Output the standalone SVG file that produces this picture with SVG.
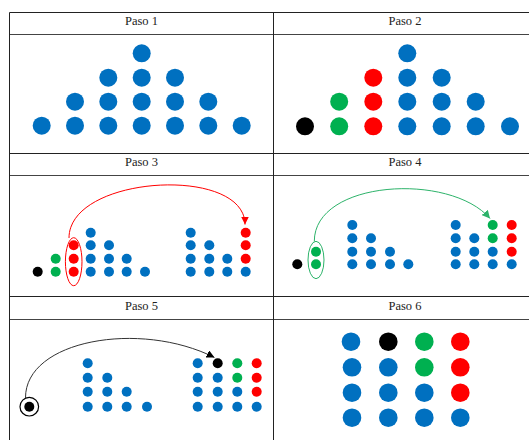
<svg xmlns="http://www.w3.org/2000/svg" width="529" height="440" viewBox="0 0 529 440">
<style>
.grid{stroke:#222;stroke-width:1;fill:none}
.hdr{stroke:#444;stroke-width:1.2;fill:none}
.t{font-family:"Liberation Serif","DejaVu Serif",serif;font-size:12.5px;fill:#222;text-anchor:middle}
.b{fill:#0070C0}.r{fill:#FF0000}.g{fill:#00B050}.k{fill:#000}
</style>
<defs>
<marker id="ar" viewBox="0 0 10 10" refX="10" refY="5" markerWidth="8" markerHeight="8" markerUnits="userSpaceOnUse" orient="auto"><path d="M0,0 L10,5 L0,10 z" fill="#FF0000"/></marker>
<marker id="ag" viewBox="0 0 10 10" refX="10" refY="5" markerWidth="8" markerHeight="8" markerUnits="userSpaceOnUse" orient="auto"><path d="M0,0 L10,5 L0,10 z" fill="#2DB36A"/></marker>
<marker id="ak" viewBox="0 0 10 10" refX="10" refY="5" markerWidth="8" markerHeight="8" markerUnits="userSpaceOnUse" orient="auto"><path d="M0,0 L10,5 L0,10 z" fill="#000"/></marker>
</defs>
<rect width="529" height="440" fill="#fff"/>
<g id="table">
<line class="grid" x1="9.5" y1="12.5" x2="529" y2="12.5"/>
<line class="hdr" x1="9.5" y1="34.5" x2="529" y2="34.5"/>
<line class="grid" x1="9.5" y1="153.5" x2="529" y2="153.5"/>
<line class="hdr" x1="9.5" y1="175.5" x2="529" y2="175.5"/>
<line class="grid" x1="9.5" y1="296.5" x2="529" y2="296.5"/>
<line class="hdr" x1="9.5" y1="319.5" x2="529" y2="319.5"/>
<line class="grid" x1="9.5" y1="12.5" x2="9.5" y2="440"/>
<line class="grid" x1="273.5" y1="12.5" x2="273.5" y2="440"/>
<text class="t" x="141.5" y="24.5">Paso 1</text>
<text class="t" x="405" y="24.5">Paso 2</text>
<text class="t" x="141.5" y="166">Paso 3</text>
<text class="t" x="405" y="166">Paso 4</text>
<text class="t" x="141.5" y="309.5">Paso 5</text>
<text class="t" x="405" y="309.5">Paso 6</text>
</g>
<g id="paso1">
<circle class="b" cx="141.7" cy="53.3" r="9"/>
<circle class="b" cx="108.3" cy="77.7" r="9"/><circle class="b" cx="141.7" cy="77.7" r="9"/><circle class="b" cx="175" cy="77.7" r="9"/>
<circle class="b" cx="75" cy="101.7" r="9"/><circle class="b" cx="108.3" cy="101.7" r="9"/><circle class="b" cx="141.7" cy="101.7" r="9"/><circle class="b" cx="175" cy="101.7" r="9"/><circle class="b" cx="208.3" cy="101.7" r="9"/>
<circle class="b" cx="41.7" cy="125.7" r="9"/><circle class="b" cx="75" cy="125.7" r="9"/><circle class="b" cx="108.3" cy="125.7" r="9"/><circle class="b" cx="141.7" cy="125.7" r="9"/><circle class="b" cx="175" cy="125.7" r="9"/><circle class="b" cx="208.3" cy="125.7" r="9"/><circle class="b" cx="241.7" cy="125.7" r="9"/>
</g>
<g id="paso2">
<circle class="b" cx="407.3" cy="53.3" r="9"/>
<circle class="r" cx="373.3" cy="77.7" r="9"/><circle class="b" cx="407.3" cy="77.7" r="9"/><circle class="b" cx="441.7" cy="77.7" r="9"/>
<circle class="g" cx="339.2" cy="101.7" r="9"/><circle class="r" cx="373.3" cy="101.7" r="9"/><circle class="b" cx="407.3" cy="101.7" r="9"/><circle class="b" cx="441.7" cy="101.7" r="9"/><circle class="b" cx="475.7" cy="101.7" r="9"/>
<circle class="k" cx="305" cy="126.3" r="9"/><circle class="g" cx="339.2" cy="126.3" r="9"/><circle class="r" cx="373.3" cy="126.3" r="9"/><circle class="b" cx="407.3" cy="126.3" r="9"/><circle class="b" cx="441.7" cy="126.3" r="9"/><circle class="b" cx="475.7" cy="126.3" r="9"/><circle class="b" cx="510" cy="126.3" r="9"/>
</g>
<g id="paso3">
<circle class="k" cx="37.7" cy="271.7" r="5"/>
<circle class="g" cx="55.7" cy="258.7" r="5"/><circle class="g" cx="55.7" cy="271.7" r="5"/>
<circle class="r" cx="73.7" cy="245.3" r="5"/><circle class="r" cx="73.7" cy="258.7" r="5"/><circle class="r" cx="73.7" cy="271.7" r="5"/>
<ellipse cx="73.7" cy="261.7" rx="8.3" ry="24" fill="none" stroke="#FF0000" stroke-width="1"/>
<circle class="b" cx="90.7" cy="232.7" r="5"/><circle class="b" cx="90.7" cy="245.3" r="5"/><circle class="b" cx="90.7" cy="258.7" r="5"/><circle class="b" cx="90.7" cy="271.7" r="5"/>
<circle class="b" cx="109" cy="245.3" r="5"/><circle class="b" cx="109" cy="258.7" r="5"/><circle class="b" cx="109" cy="271.7" r="5"/>
<circle class="b" cx="126.7" cy="258.7" r="5"/><circle class="b" cx="126.7" cy="271.7" r="5"/>
<circle class="b" cx="145" cy="271.7" r="5"/>
<circle class="b" cx="190.7" cy="232.7" r="5"/><circle class="b" cx="190.7" cy="245.3" r="5"/><circle class="b" cx="190.7" cy="258.7" r="5"/><circle class="b" cx="190.7" cy="271.7" r="5"/>
<circle class="b" cx="209.3" cy="245.3" r="5"/><circle class="b" cx="209.3" cy="258.7" r="5"/><circle class="b" cx="209.3" cy="271.7" r="5"/>
<circle class="b" cx="227.3" cy="258.7" r="5"/><circle class="b" cx="227.3" cy="271.7" r="5"/>
<circle class="r" cx="245.7" cy="232.7" r="5"/><circle class="r" cx="245.7" cy="245.3" r="5"/><circle class="r" cx="245.7" cy="258.7" r="5"/><circle class="b" cx="245.7" cy="271.7" r="5"/>
</g>
<g id="paso4">
<circle class="k" cx="297.3" cy="264.3" r="5"/>
<circle class="g" cx="316" cy="251.7" r="5"/><circle class="g" cx="316" cy="264.3" r="5"/>
<ellipse cx="316" cy="260" rx="8" ry="18.7" fill="none" stroke="#2DB36A" stroke-width="1"/>
<circle class="b" cx="352.3" cy="225" r="5"/><circle class="b" cx="352.3" cy="238.3" r="5"/><circle class="b" cx="352.3" cy="251.7" r="5"/><circle class="b" cx="352.3" cy="264.3" r="5"/>
<circle class="b" cx="371" cy="238.3" r="5"/><circle class="b" cx="371" cy="251.7" r="5"/><circle class="b" cx="371" cy="264.3" r="5"/>
<circle class="b" cx="390" cy="251.7" r="5"/><circle class="b" cx="390" cy="264.3" r="5"/>
<circle class="b" cx="408.3" cy="264.3" r="5"/>
<circle class="b" cx="455.7" cy="225" r="5"/><circle class="b" cx="455.7" cy="238.3" r="5"/><circle class="b" cx="455.7" cy="251.7" r="5"/><circle class="b" cx="455.7" cy="264.3" r="5"/>
<circle class="b" cx="474.3" cy="238.3" r="5"/><circle class="b" cx="474.3" cy="251.7" r="5"/><circle class="b" cx="474.3" cy="264.3" r="5"/>
<circle class="g" cx="492.7" cy="225" r="5"/><circle class="g" cx="492.7" cy="238.3" r="5"/><circle class="b" cx="492.7" cy="251.7" r="5"/><circle class="b" cx="492.7" cy="264.3" r="5"/>
<circle class="r" cx="511.7" cy="225" r="5"/><circle class="r" cx="511.7" cy="238.3" r="5"/><circle class="r" cx="511.7" cy="251.7" r="5"/><circle class="b" cx="511.7" cy="264.3" r="5"/>
</g>
<g id="paso5">
<circle cx="29.3" cy="406.7" r="9.3" fill="#fff" stroke="#000" stroke-width="1.2"/>
<circle class="k" cx="29.3" cy="406.7" r="5"/>
<circle class="b" cx="87.7" cy="363.3" r="5"/><circle class="b" cx="87.7" cy="377.7" r="5"/><circle class="b" cx="87.7" cy="391.7" r="5"/><circle class="b" cx="87.7" cy="406.7" r="5"/>
<circle class="b" cx="107.3" cy="377.7" r="5"/><circle class="b" cx="107.3" cy="391.7" r="5"/><circle class="b" cx="107.3" cy="406.7" r="5"/>
<circle class="b" cx="126.7" cy="391.7" r="5"/><circle class="b" cx="126.7" cy="406.7" r="5"/>
<circle class="b" cx="147" cy="406.7" r="5"/>
<circle class="b" cx="197.7" cy="363.3" r="5"/><circle class="b" cx="197.7" cy="377.7" r="5"/><circle class="b" cx="197.7" cy="391.7" r="5"/><circle class="b" cx="197.7" cy="406.7" r="5"/>
<circle class="k" cx="217.7" cy="363.3" r="5"/><circle class="b" cx="217.7" cy="377.7" r="5"/><circle class="b" cx="217.7" cy="391.7" r="5"/><circle class="b" cx="217.7" cy="406.7" r="5"/>
<circle class="g" cx="237.3" cy="363.3" r="5"/><circle class="g" cx="237.3" cy="377.7" r="5"/><circle class="b" cx="237.3" cy="391.7" r="5"/><circle class="b" cx="237.3" cy="406.7" r="5"/>
<circle class="r" cx="256.7" cy="363.3" r="5"/><circle class="r" cx="256.7" cy="377.7" r="5"/><circle class="r" cx="256.7" cy="391.7" r="5"/><circle class="b" cx="256.7" cy="406.7" r="5"/>
</g>
<g id="paso6">
<circle class="b" cx="351" cy="341.7" r="9.3"/><circle class="k" cx="388.3" cy="341.7" r="9.3"/><circle class="g" cx="424.3" cy="341.7" r="9.3"/><circle class="r" cx="460.3" cy="341.7" r="9.3"/>
<circle class="b" cx="352" cy="367.3" r="9.3"/><circle class="b" cx="388.3" cy="367.3" r="9.3"/><circle class="g" cx="424.3" cy="367.3" r="9.3"/><circle class="r" cx="460.3" cy="367.3" r="9.3"/>
<circle class="b" cx="352" cy="392.7" r="9.3"/><circle class="b" cx="388.3" cy="392.7" r="9.3"/><circle class="b" cx="424.3" cy="392.7" r="9.3"/><circle class="r" cx="460.3" cy="392.7" r="9.3"/>
<circle class="b" cx="352" cy="417.7" r="9.3"/><circle class="b" cx="388.3" cy="417.7" r="9.3"/><circle class="b" cx="424.3" cy="417.7" r="9.3"/><circle class="b" cx="460.3" cy="417.7" r="9.3"/>
</g>
<g id="connectors" fill="none" stroke-width="1">
<path d="M69,238 C69,175 245,165 245,224.5" stroke="#FF0000" marker-end="url(#ar)"/>
<path d="M314.3,241.5 C314,180 450,172 490,218.5" stroke="#2DB36A" marker-end="url(#ag)"/>
<path d="M25.5,398 C25,340 140,320 214.5,357.5" stroke="#333" marker-end="url(#ak)"/>
</g>
</svg>
